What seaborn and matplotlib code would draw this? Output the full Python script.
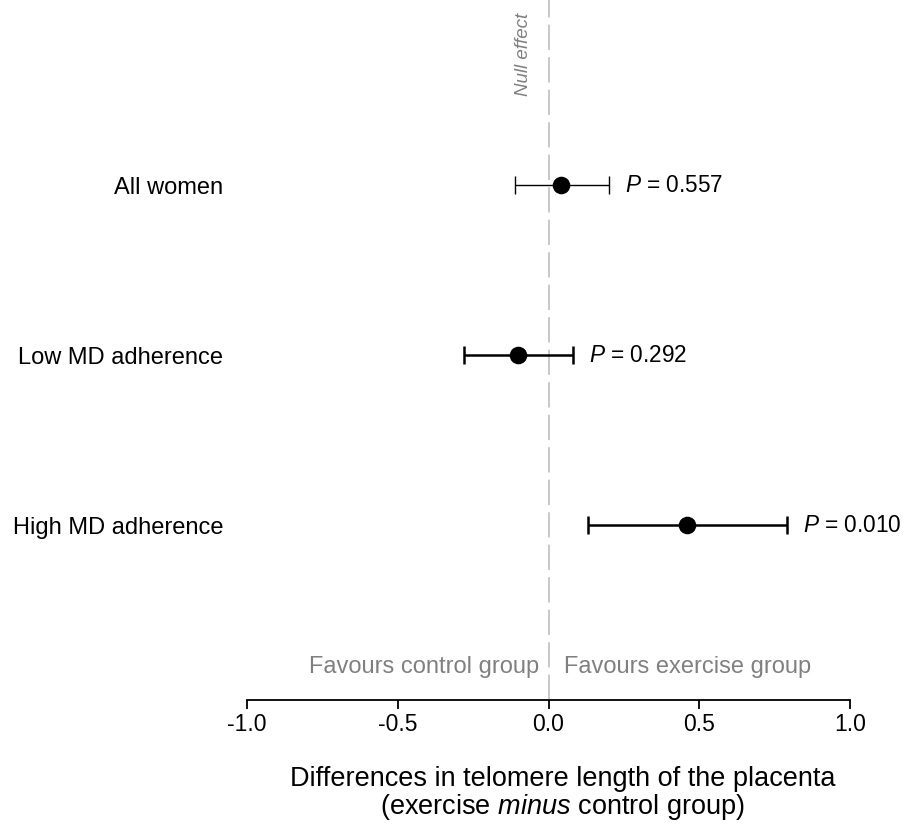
import matplotlib
matplotlib.use("Agg")
import matplotlib.pyplot as plt
import seaborn as sns
import pandas as pd

# ---- data ----
groups = ["All women", "Low MD adherence", "High MD adherence"]
estimate = [0.04, -0.10, 0.46]
ci_low = [-0.11, -0.28, 0.13]
ci_high = [0.20, 0.08, 0.79]
p_values = ["0.557", "0.292", "0.010"]
x_ticks = [-1.0, -0.5, 0.0, 0.5, 1.0]
x_ticklabels = ["-1.0", "-0.5", "0.0", "0.5", "1.0"]

# styles (not data)
bar_lw = [1.0, 1.8, 1.8]

sns.set_style("white")
plt.rcParams["font.family"] = ["Liberation Sans", "DejaVu Sans"]
plt.rcParams["mathtext.fontset"] = "custom"
plt.rcParams["mathtext.rm"] = "Liberation Sans"
plt.rcParams["mathtext.it"] = "Liberation Sans:italic"
plt.rcParams["text.color"] = "black"
plt.rcParams["axes.labelcolor"] = "black"
plt.rcParams["xtick.color"] = "black"
plt.rcParams["ytick.color"] = "black"

df = pd.DataFrame({"group": groups, "est": estimate, "lo": ci_low,
                   "hi": ci_high, "pos": range(len(groups))})

fig = plt.figure(figsize=(9.14, 8.30), dpi=100)
ax = fig.add_axes([247 / 914, 1 - 700 / 830, 603 / 914, 700 / 830])

# null-effect line
ax.axvline(0, color="#c4c4c4", lw=1.3, dashes=(14, 4), zorder=0)

# confidence intervals
for i, r in df.iterrows():
    ax.errorbar(r["est"], r["pos"],
                xerr=[[r["est"] - r["lo"]], [r["hi"] - r["est"]]],
                fmt="none", ecolor="black", elinewidth=bar_lw[i],
                capsize=6.5, capthick=bar_lw[i], zorder=2)

sns.scatterplot(data=df, x="est", y="pos", color="black", s=160,
                edgecolor="black", linewidth=0, ax=ax, zorder=3, legend=False)

# P labels
for i, r in df.iterrows():
    ax.annotate(r"$\it{P}$ = " + p_values[i], xy=(r["hi"], r["pos"]),
                xytext=(12, 0), textcoords="offset points",
                ha="left", va="center", fontsize=16.3)

ax.set_xlim(-1.0, 1.0)
ax.set_ylim(2 + 175 / 170, -185 / 170)

ax.set_yticks(list(df["pos"]))
ax.set_yticklabels(groups, fontsize=17)
ax.tick_params(axis="y", length=0, pad=17)

ax.set_xticks(x_ticks)
ax.set_xticklabels(x_ticklabels, fontsize=16.5)
ax.tick_params(axis="x", direction="out", length=6.5, width=1.3,
               color="black", pad=3, bottom=True)

for s in ["left", "right", "top"]:
    ax.spines[s].set_visible(False)
ax.spines["bottom"].set_color("black")
ax.spines["bottom"].set_linewidth(1.3)

ax.set_xlabel("Differences in telomere length of the placenta\n"
              r"(exercise $\it{minus}$ control group)",
              fontsize=19.5, linespacing=1.0)
ax.xaxis.set_label_coords(0.5 + 14 / 603, -66 / 700)
ax.xaxis.label.set_va("top")
ax.set_ylabel("")

# annotations
ax.annotate("Favours control group", xy=(0, 2 + 175 / 170), xytext=(-7, 24),
            textcoords="offset points", ha="right", va="center",
            fontsize=17, color="#808080")
ax.annotate("Favours exercise group", xy=(0, 2 + 175 / 170), xytext=(11, 24),
            textcoords="offset points", ha="left", va="center",
            fontsize=17, color="#808080")
ax.annotate("Null effect", xy=(0, -185 / 170), xytext=(-18, -9),
            textcoords="offset points", ha="center", va="top",
            rotation=90, fontsize=13.5, style="italic", color="#808080")

fig.savefig("out.png", dpi=100)
